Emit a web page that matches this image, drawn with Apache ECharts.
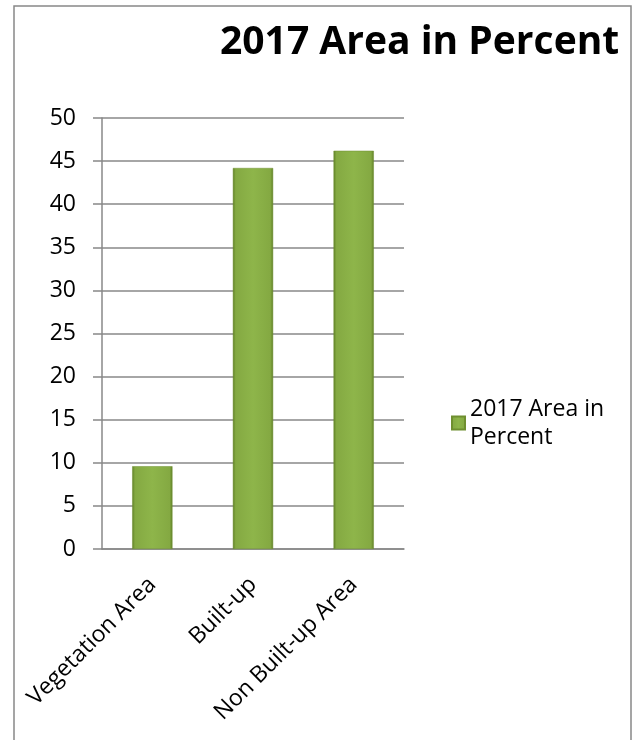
<!DOCTYPE html>
<html>
<head>
<meta charset="utf-8">
<script src="https://cdn.jsdelivr.net/npm/echarts@6/dist/echarts.min.js"></script>
<style>
  html, body { margin: 0; padding: 0; background: #fff; }
  #chart { width: 634px; height: 740px; }
</style>
</head>
<body>
<div id="chart"></div>
<script>
var categories = ['Vegetation Area', 'Built-up', 'Non Built-up Area'];
var areaPercent = [9.6, 44.2, 46.2];
var seriesName = '2017 Area in Percent';
var yTicks = { min: 0, max: 50, step: 5 };

var font = 'Open Sans';
var barFill = new echarts.graphic.LinearGradient(0, 0, 1, 0, [
  { offset: 0, color: '#5f7f26' },
  { offset: 0.07, color: '#84a942' },
  { offset: 0.5, color: '#8eb54a' },
  { offset: 0.93, color: '#84a942' },
  { offset: 1, color: '#5f7f26' }
]);

var chart = echarts.init(document.getElementById('chart'));
chart.setOption({
  animation: false,
  title: {
    text: seriesName,
    left: 215, top: 18,
    textStyle: { fontFamily: font, fontWeight: 'bold', fontSize: 39, color: '#000' }
  },
  legend: {
    left: 446, top: 390,
    icon: 'rect', itemWidth: 13, itemHeight: 13, itemGap: 6,
    formatter: function () { return '2017 Area in\nPercent'; },
    textStyle: { fontFamily: font, fontSize: 23, color: '#000', lineHeight: 28 }
  },
  grid: { left: 102, right: 230, top: 118, bottom: 191 },
  xAxis: {
    type: 'category',
    data: categories,
    axisLine: { lineStyle: { color: '#888', width: 1.5 } },
    axisTick: { length: 7, lineStyle: { color: '#888', width: 1.5 } },
    axisLabel: { rotate: 45, margin: 32, fontFamily: font, fontSize: 23, color: '#000' }
  },
  yAxis: {
    type: 'value',
    min: yTicks.min, max: yTicks.max, interval: yTicks.step,
    axisLine: { show: true, lineStyle: { color: '#888', width: 1.5 } },
    axisTick: { show: true, length: 9, lineStyle: { color: '#888', width: 1.5 } },
    splitLine: { lineStyle: { color: '#888', width: 1.5 } },
    axisLabel: { margin: 26, fontFamily: font, fontSize: 23, color: '#000' }
  },
  series: [{
    name: seriesName,
    type: 'bar',
    data: areaPercent,
    barWidth: '40%',
    itemStyle: { color: barFill, borderColor: '#6f8f30', borderWidth: 0.5 }
  }],
  graphic: [{
    type: 'rect',
    shape: { x: 14, y: 6, width: 617, height: 760 },
    style: { fill: 'none', stroke: '#888', lineWidth: 1.5 },
    silent: true
  }]
});
</script>
</body>
</html>
